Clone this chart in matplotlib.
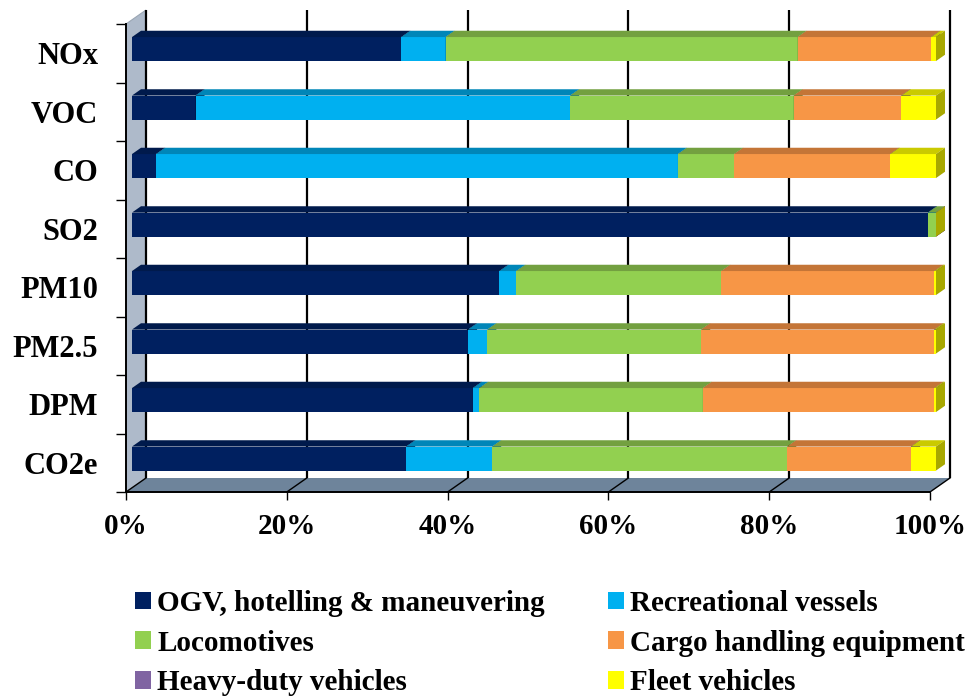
import matplotlib
matplotlib.use("Agg")
import matplotlib.pyplot as plt
from matplotlib.patches import Polygon, Patch
import numpy as np

plt.rcParams['font.family'] = ['Liberation Serif', 'DejaVu Serif']
plt.rcParams['font.weight'] = 'bold'

# ---- data (percent shares) ----
pollutants = ["CO2e", "DPM", "PM2.5", "PM10", "SO2", "CO", "VOC", "NOx"]
ogv        = [34.1, 42.4, 41.8, 45.7, 99.0,  3.0,  7.9, 33.5]
recreation = [10.7,  0.8,  2.4,  2.1,  0.0, 64.9, 46.6,  5.5]
locomotive = [36.7, 27.8, 26.6, 25.5,  1.0,  7.0, 27.8, 43.8]
cargo      = [15.4, 28.8, 29.0, 26.5,  0.0, 19.4, 13.4, 16.6]
heavy_duty = [ 0.0,  0.0,  0.0,  0.0,  0.0,  0.0,  0.0,  0.0]
fleet      = [ 3.1,  0.2,  0.2,  0.2,  0.0,  5.7,  4.3,  0.6]

series_names = ["OGV, hotelling & maneuvering", "Recreational vessels",
                "Locomotives", "Cargo handling equipment",
                "Heavy-duty vehicles", "Fleet vehicles"]
series_vals = [ogv, recreation, locomotive, cargo, heavy_duty, fleet]
front_cols = ["#002060", "#00B0F0", "#92D050", "#F79646", "#8064A2", "#FFFF00"]
top_cols   = ["#001A4C", "#0086B8", "#73A040", "#C47537", "#634C80", "#CACA00"]
side_cols  = ["#00133A", "#006E96", "#5D8634", "#A3612D", "#51406A", "#A8A800"]
xticks = [0, 20, 40, 60, 80, 100]
xticklabels = ["0%", "20%", "40%", "60%", "80%", "100%"]

W, H = 969, 696
fig = plt.figure(figsize=(W / 100, H / 100), dpi=100)
# front plane of the 3-D box
x0p, x1p, ytop, ybot = 126, 930, 24, 492
ax = fig.add_axes([x0p / W, 1 - ybot / H, (x1p - x0p) / W, (ybot - ytop) / H])
n = len(pollutants)
ax.set_xlim(0, 100)
ax.set_ylim(-0.5, n - 0.5)

pxx = (x1p - x0p) / 100.0
pxy = (ybot - ytop) / n
DX = 20 / pxx          # full depth, x (data units)
DY = 14 / pxy          # full depth, y (data units)
f0, f1 = 0.30, 0.75    # bar depth span
bh = 24 / pxy          # bar thickness

yb0, yb1 = -0.5, n - 0.5
# wall
ax.add_patch(Polygon([(0, yb0), (0, yb1), (DX, yb1 + DY), (DX, yb0 + DY)],
                     closed=True, fc="#AEBACA", ec="#9AA6B4", lw=0.8,
                     clip_on=False, zorder=1))
# floor
ax.add_patch(Polygon([(0, yb0), (100, yb0), (100 + DX, yb0 + DY), (DX, yb0 + DY)],
                     closed=True, fc="#6E849B", ec="none", clip_on=False, zorder=1))
# gridlines on back plane + floor diagonals
for xv in xticks:
    ax.plot([xv + DX, xv + DX], [yb0 + DY, yb1 + DY], color="black", lw=1.6,
            clip_on=False, zorder=2, solid_capstyle="butt")
    ax.plot([xv, xv + DX], [yb0, yb0 + DY], color="black", lw=1.0,
            clip_on=False, zorder=2)

# bars
d = (f1 - f0) * DX
e = (f1 - f0) * DY
z = 3
for i in range(n):
    left = 0.0
    yc = i + f0 * DY
    yt = yc + bh / 2
    yb = yc - bh / 2
    for k, vals in enumerate(series_vals):
        w = vals[i]
        L = left + f0 * DX
        R = L + w
        if w > 0:
            ax.barh(yc, w, left=L, height=bh, color=front_cols[k],
                    edgecolor="none", clip_on=False, zorder=z)
            ax.add_patch(Polygon([(L, yt), (R, yt), (R + d, yt + e), (L + d, yt + e)],
                                 closed=True, fc=top_cols[k], ec="none",
                                 clip_on=False, zorder=z))
        ax.add_patch(Polygon([(R, yb), (R, yt), (R + d, yt + e), (R + d, yb + e)],
                             closed=True, fc=side_cols[k], ec="none",
                             clip_on=False, zorder=z))
        z += 0.01
        left += w

# axes styling
for s in ["top", "right"]:
    ax.spines[s].set_visible(False)
ax.spines["left"].set_linewidth(1.4)
ax.spines["bottom"].set_linewidth(1.4)
ax.spines["left"].set_zorder(6)
ax.spines["bottom"].set_zorder(6)
ax.set_xticks(xticks)
ax.set_xticklabels(xticklabels, fontsize=21, fontweight="bold")
ax.tick_params(axis="x", direction="out", length=6, width=1, pad=9)
ax.set_yticks(np.arange(-0.5, n, 1.0))
ax.set_yticklabels([])
ax.set_yticks(np.arange(n), minor=True)
ax.set_yticklabels(pollutants, minor=True, fontsize=22, fontweight="bold")
ax.tick_params(axis="y", which="major", direction="out", length=7, width=1)
ax.tick_params(axis="y", which="minor", length=0, pad=20)
ax.set_facecolor("none")

# legend (row-wise order like the original)
handles = [Patch(facecolor=c, edgecolor="none") for c in front_cols]
order = [0, 2, 4, 1, 3, 5]
fs = 21


def make_legend(colspace):
    return fig.legend([handles[j] for j in order], [series_names[j] for j in order],
                      ncol=2, loc="upper left", bbox_to_anchor=(135 / W, 1 - 590 / H),
                      frameon=False, handlelength=0.55, handleheight=0.55,
                      handletextpad=0.22, columnspacing=colspace, labelspacing=0.43,
                      borderpad=0, borderaxespad=0, prop={"weight": "bold", "size": fs})


leg = make_legend(2.4)
fig.canvas.draw()
r = fig.canvas.get_renderer()
col1_end = max(t.get_window_extent(r).x1 for t in leg.get_texts()[:3])
col2_start = min(h.get_window_extent(r).x0 for h in leg.legend_handles[3:])
cur_gap = col2_start - col1_end
need_gap = 608 - col1_end
leg.remove()
leg = make_legend(2.4 * need_gap / cur_gap)

fig.savefig("out.png", dpi=100)
